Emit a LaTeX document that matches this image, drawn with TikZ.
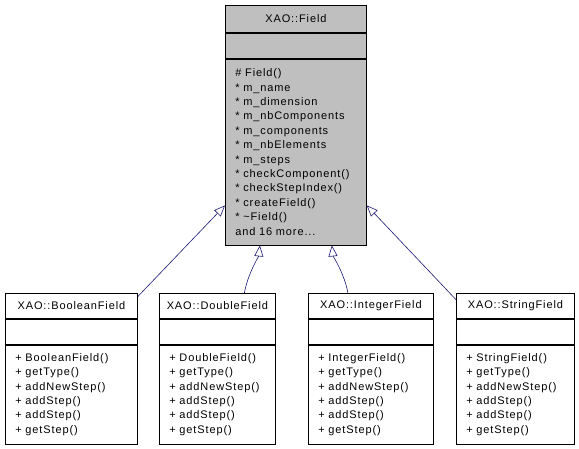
\documentclass[tikz,border=0pt]{standalone}
\usepackage{fontspec}
\newfontfamily\dxfont[LetterSpace=8]{Liberation Sans}
\usetikzlibrary{positioning,arrows.meta}
\definecolor{dxgrey}{HTML}{BFBFBF}
\definecolor{dxedge}{HTML}{191970}
\tikzset{
  box/.style={draw=black,line width=0.8pt,rectangle,inner sep=0pt,
    font=\dxfont\fontsize{11pt}{14.4pt}\selectfont},
  clshead/.style={box,minimum width=#1,minimum height=25pt},
  clsattr/.style={box,minimum width=#1,minimum height=25pt},
  clsops/.style={box,align=left,inner xsep=10pt,text width=#1},
  inh/.style={draw=dxedge,line width=0.6pt,-{Triangle[open,length=11pt,width=9pt]}}
}

\begin{document}
\begin{tikzpicture}[x=1pt,y=-1pt]
  \useasboundingbox (0,0) rectangle (579,448);
  % base class
  \draw (225,5) node[clshead=141pt,minimum height=27pt,fill=dxgrey,anchor=north west] (fhead) {XAO::Field};
  \node[clsattr=141pt,fill=dxgrey,below=0pt of fhead] (fattr) {};
  \node[clsops=121pt,minimum height=186pt,fill=dxgrey,below=0pt of fattr] (fops)
    {\# Field()\\{*} m\_name\\{*} m\_dimension\\{*} m\_nbComponents\\{*} m\_components\\
     {*} m\_nbElements\\{*} m\_steps\\{*} checkComponent()\\{*} checkStepIndex()\\
     {*} createField()\\{*} \textasciitilde Field()\\and 16 more...};

  \draw (5,293) node[clshead=132pt,anchor=north west] (bhead) {XAO::BooleanField};
  \node[clsattr=132pt,below=0pt of bhead] (battr) {};
  \node[clsops=112pt,minimum height=99pt,below=0pt of battr] (bops)
    {+ BooleanField()\\+ getType()\\+ addNewStep()\\+ addStep()\\+ addStep()\\+ getStep()};

  \draw (159,293) node[clshead=116pt,anchor=north west] (dhead) {XAO::DoubleField};
  \node[clsattr=116pt,below=0pt of dhead] (dattr) {};
  \node[clsops=96pt,minimum height=99pt,below=0pt of dattr] (dops)
    {+ DoubleField()\\+ getType()\\+ addNewStep()\\+ addStep()\\+ addStep()\\+ getStep()};

  \draw (308,293) node[clshead=125pt,anchor=north west] (ihead) {XAO::IntegerField};
  \node[clsattr=125pt,below=0pt of ihead] (iattr) {};
  \node[clsops=105pt,minimum height=99pt,below=0pt of iattr] (iops)
    {+ IntegerField()\\+ getType()\\+ addNewStep()\\+ addStep()\\+ addStep()\\+ getStep()};

  \draw (456,293) node[clshead=118pt,anchor=north west] (shead) {XAO::StringField};
  \node[clsattr=118pt,below=0pt of shead] (sattr) {};
  \node[clsops=98pt,minimum height=99pt,below=0pt of sattr] (sops)
    {+ StringField()\\+ getType()\\+ addNewStep()\\+ addStep()\\+ addStep()\\+ getStep()};

  % inheritance
  \draw[inh] (bhead.8) -- (fops.217);
  \draw[inh] ([xshift=27pt]dhead.north) .. controls +(3,-18) and +(-1,10) .. ([xshift=-36pt]fops.south);
  \draw[inh] ([xshift=-23pt]ihead.north) .. controls +(-3,-18) and +(1,10) .. ([xshift=36pt]fops.south);
  \draw[inh] (shead.174) -- (fops.-37);
\end{tikzpicture}
\end{document}
